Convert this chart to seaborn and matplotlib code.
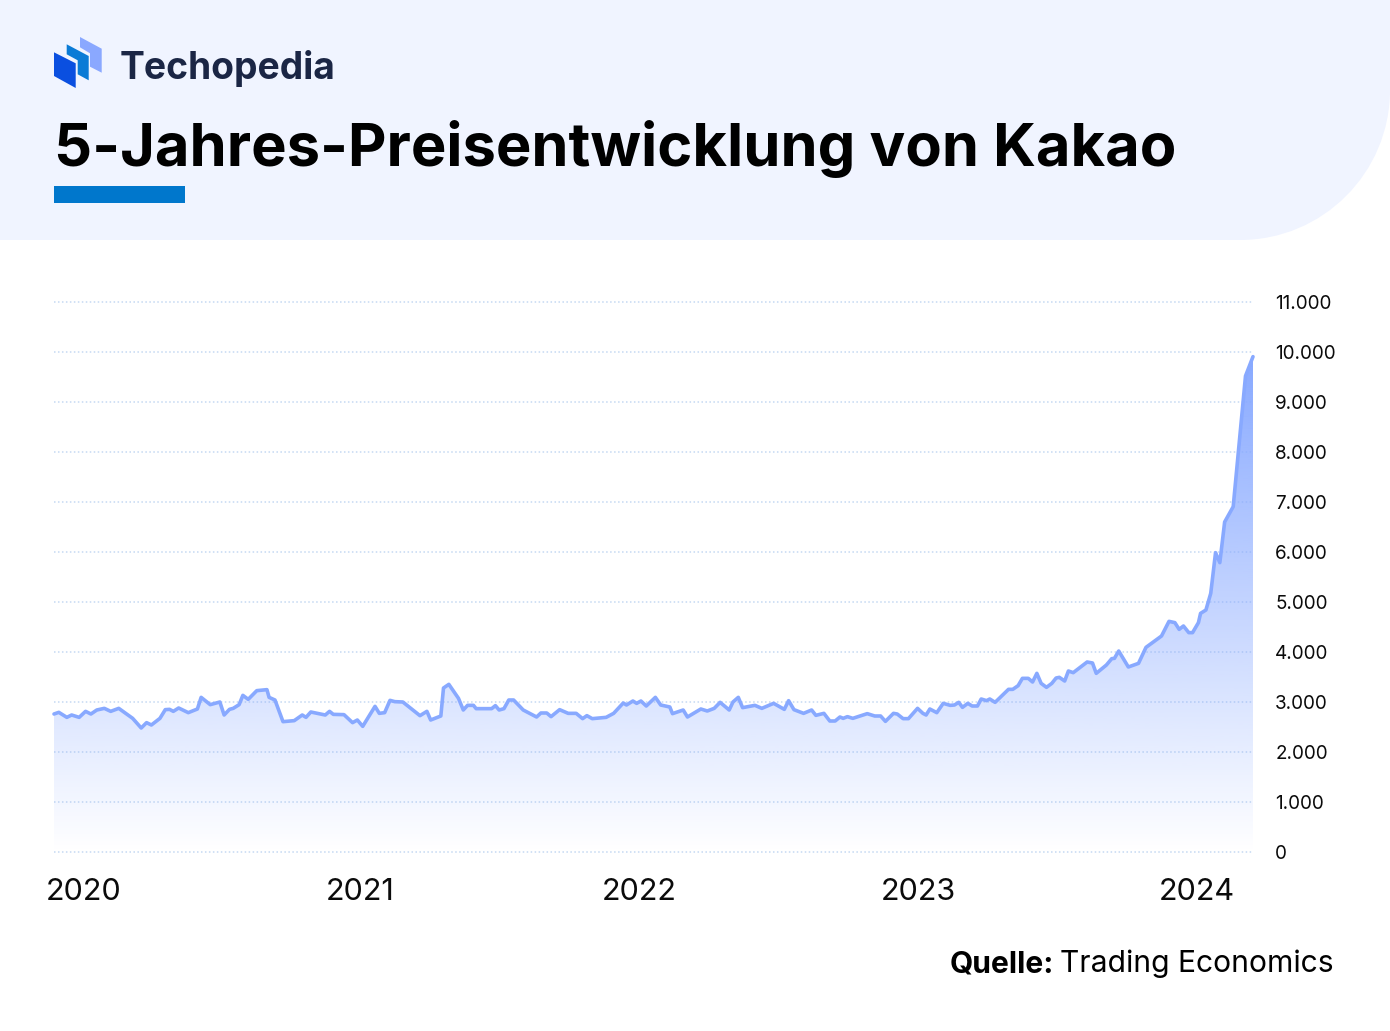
import matplotlib
matplotlib.use("Agg")
import matplotlib.pyplot as plt
from matplotlib.patches import PathPatch, Polygon, Rectangle
from matplotlib.path import Path
import numpy as np
import pandas as pd
import seaborn as sns

# weeks since the left edge of the chart
weeks = [0.0, 0.9, 2.4, 3.3, 4.7, 5.9, 6.9, 8.0, 9.4, 10.6, 12.1, 14.7, 16.3, 17.3, 18.2, 19.8, 20.8, 21.6, 22.3, 23.3,
         25.1, 26.8, 27.5, 29.2, 31.0, 31.8, 32.8, 33.5, 34.6, 35.3, 36.3, 37.9, 39.8, 40.2, 41.3, 42.8, 44.9, 46.4, 47.1, 48.0,
         50.7, 51.5, 52.2, 54.2, 55.8, 56.7, 57.7, 60.0, 60.8, 61.8, 62.8, 63.7, 65.2, 68.4, 69.7, 70.4, 72.3, 72.8, 73.8,
         75.6, 76.5, 77.3, 78.4, 78.9, 81.8, 82.5, 83.2, 84.1, 85.0, 85.9, 87.7, 90.2, 91.0, 92.1, 92.9, 94.5, 96.1, 97.6, 98.8, 99.6,
         100.6, 103.2, 104.6, 106.4, 107.0, 108.2, 108.9, 109.7, 110.7, 112.4, 113.4, 115.1, 115.6, 117.6, 118.4, 120.9, 122.1, 123.4, 124.5,
         126.2, 126.9, 127.9, 128.7, 131.0, 132.3, 134.5, 136.5, 137.3, 138.3, 140.1, 141.6, 142.4, 143.9, 145.0, 146.0, 146.9, 147.5, 148.3, 149.3,
         152.0, 153.4, 154.5, 155.4, 156.9, 157.6, 158.7, 159.7, 161.4, 162.4, 163.0, 163.7, 165.0, 166.2, 167.5, 168.3, 169.1, 169.8, 170.8, 171.6,
         172.6, 173.3, 174.3, 174.9, 175.9, 178.4, 179.2, 180.2, 181.0, 182.1, 182.9, 183.7, 184.5, 185.5, 186.5, 187.3, 187.9, 188.9, 189.6, 190.5,
         193.1, 194.1, 194.8, 196.7, 197.7, 198.2, 199.0, 200.8, 202.7, 204.1, 207.0, 208.4, 209.5, 210.3, 211.1, 212.1, 212.8, 213.9, 214.3, 215.3,
         216.2, 217.1, 217.9, 218.8, 220.4, 222.7, 224.1]
prices = [2760, 2793, 2693, 2740, 2693, 2813, 2760, 2840, 2873, 2813, 2873, 2673, 2480, 2587, 2540, 2673, 2847, 2853, 2813, 2880,
          2787, 2860, 3093, 2947, 3000, 2740, 2853, 2873, 2947, 3133, 3053, 3227, 3247, 3093, 3040, 2607, 2627, 2740, 2693, 2800,
          2740, 2813, 2753, 2747, 2587, 2640, 2513, 2913, 2773, 2787, 3033, 3007, 3000, 2727, 2813, 2640, 2720, 3280, 3353,
          3073, 2840, 2933, 2933, 2867, 2867, 2927, 2840, 2867, 3040, 3040, 2840, 2700, 2780, 2780, 2707, 2847, 2773, 2773, 2667, 2727,
          2667, 2693, 2773, 2980, 2940, 3020, 2973, 3020, 2920, 3093, 2940, 2900, 2767, 2840, 2700, 2860, 2820, 2873, 2993,
          2840, 3000, 3093, 2887, 2933, 2873, 2973, 2853, 3027, 2847, 2773, 2840, 2733, 2773, 2620, 2620, 2700, 2673, 2707, 2673,
          2767, 2720, 2720, 2613, 2773, 2760, 2667, 2667, 2873, 2773, 2740, 2860, 2787, 2973, 2933, 2940, 2993, 2893, 2973, 2920,
          2920, 3060, 3027, 3060, 2993, 3253, 3253, 3327, 3473, 3473, 3400, 3573, 3373, 3293, 3373, 3480, 3493, 3420, 3620, 3587,
          3800, 3780, 3573, 3740, 3867, 3873, 4020, 3700, 3773, 4093, 4320, 4613, 4587, 4453, 4520, 4387, 4387, 4587, 4773, 4840,
          5173, 5987, 5787, 6600, 6907, 9520, 9907]
y_ticks = [0, 1000, 2000, 3000, 4000, 5000, 6000, 7000, 8000, 9000, 10000, 11000]
y_labels = ["0", "1.000", "2.000", "3.000", "4.000", "5.000", "6.000", "7.000", "8.000", "9.000", "10.000", "11.000"]
year_weeks = [5.6, 57.2, 109.3, 161.5, 213.6]
year_labels = ["2020", "2021", "2022", "2023", "2024"]

LINE = "#88A9FF"
W, H = 1390, 1031

sns.set_theme(style="white")
plt.rcParams["font.family"] = ["Inter", "DejaVu Sans"]

df = pd.DataFrame({"week": weeks, "price": prices})

fig = plt.figure(figsize=(W / 100, H / 100), dpi=100, facecolor="white")

# overlay in pixel coordinates for the header and the source line
bg = fig.add_axes([0, 0, 1, 1], zorder=0)
bg.set_xlim(0, W)
bg.set_ylim(H, 0)
bg.axis("off")

k = 0.5523 * 150
codes = [Path.MOVETO, Path.LINETO, Path.LINETO, Path.CURVE4, Path.CURVE4, Path.CURVE4, Path.LINETO, Path.CLOSEPOLY]
verts = [(0, 0), (W, 0), (W, 90), (W, 90 + k), (W - 150 + k, 240), (W - 150, 240), (0, 240), (0, 0)]
bg.add_patch(PathPatch(Path(verts, codes), facecolor="#F0F4FF", edgecolor="none"))
bg.add_patch(Rectangle((54, 186), 131, 17, facecolor="#0077CC", edgecolor="none"))

# logo
bg.add_patch(Polygon([(80, 37), (101.7, 48.7), (101.7, 72.7), (90, 66.7), (90, 53.3), (80, 47.3)], facecolor="#8AA8FF", edgecolor="none"))
bg.add_patch(Polygon([(66.7, 44.3), (88.7, 56), (88.7, 80.3), (77.7, 74.3), (77.7, 60.3), (66.7, 54.3)], facecolor="#0A7BD6", edgecolor="none"))
bg.add_patch(Polygon([(54, 52.3), (75.7, 63.3), (75.7, 88), (54, 76)], facecolor="#0A4FE0", edgecolor="none"))

bg.text(120, 79, "Techopedia", fontsize=26.8, fontweight="bold", color="#1B2645", va="baseline", ha="left")
bg.text(54, 166, "5-Jahres-Preisentwicklung von Kakao", fontsize=42.95, fontweight="bold", color="black", va="baseline", ha="left")

bg.text(1054, 964, "Quelle:", fontsize=21.6, fontweight="bold", color="black", va="center", ha="right")
bg.text(1334, 964, "Trading Economics", fontsize=21.6, color="black", va="center", ha="right")

# chart
ax = fig.add_axes([54 / W, 1 - 852 / H, (1253 - 54) / W, 550 / H], zorder=1)
ax.patch.set_alpha(0)

grad = np.zeros((256, 1, 4))
grad[..., :3] = matplotlib.colors.to_rgb(LINE)
grad[..., 3] = np.linspace(1, 0, 256)[:, None]
im = ax.imshow(grad, extent=[0, max(weeks), 0, max(prices)], aspect="auto", zorder=1.5, origin="upper")
poly = ax.fill_between(df["week"], df["price"], 0, color="none")
im.set_clip_path(poly.get_paths()[0], transform=ax.transData)

sns.lineplot(data=df, x="week", y="price", ax=ax, color=LINE, linewidth=2.6, zorder=2, errorbar=None, clip_on=False, solid_joinstyle="round")

ax.set_xlim(0, 224.1)
ax.set_ylim(0, 11000)
ax.set_xlabel("")
ax.set_ylabel("")
sns.despine(ax=ax, left=True, bottom=True)

ax.set_yticks(y_ticks)
ax.set_yticklabels(y_labels, fontsize=13.6, color="#0B0B0B", ha="left")
ax.yaxis.tick_right()
ax.set_xticks(year_weeks)
ax.set_xticklabels(year_labels, fontsize=22, color="#0B0B0B")
ax.tick_params(axis="both", length=0)
ax.tick_params(axis="y", pad=16)
ax.tick_params(axis="x", pad=19)
ax.grid(axis="y", color="#C5D9F2", linewidth=1.1, linestyle=(0, (1, 1.6)), clip_on=False)
ax.grid(axis="x", visible=False)
ax.set_axisbelow(True)

fig.savefig("out.png", dpi=100)
